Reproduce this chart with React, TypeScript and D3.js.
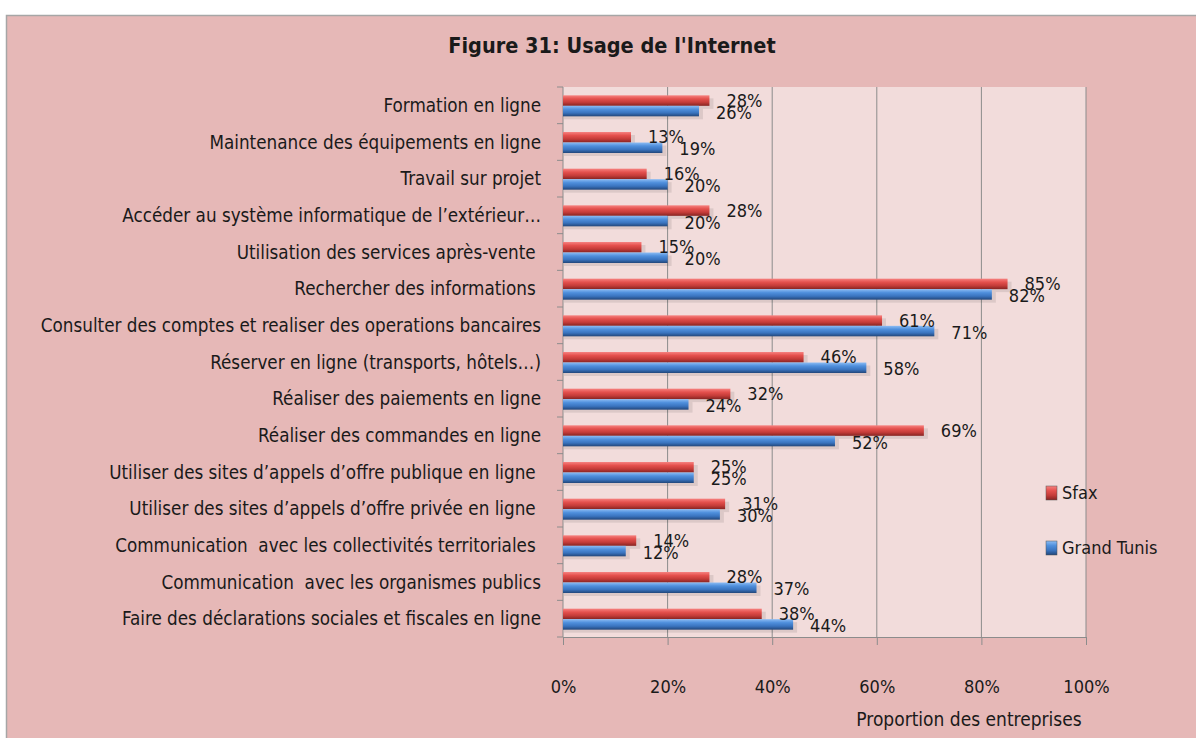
import React, { useEffect, useRef } from 'react'
import * as d3 from 'd3'

const categories = [
  "Formation en ligne",
  "Maintenance des équipements en ligne",
  "Travail sur projet",
  "Accéder au système informatique de l’extérieur…",
  "Utilisation des services après-vente ",
  "Rechercher des informations ",
  "Consulter des comptes et realiser des operations bancaires",
  "Réserver en ligne (transports, hôtels…)",
  "Réaliser des paiements en ligne",
  "Réaliser des commandes en ligne",
  "Utiliser des sites d’appels d’offre publique en ligne ",
  "Utiliser des sites d’appels d’offre privée en ligne ",
  "Communication  avec les collectivités territoriales ",
  "Communication  avec les organismes publics",
  "Faire des déclarations sociales et fiscales en ligne",
]

const sfax = [28, 13, 16, 28, 15, 85, 61, 46, 32, 69, 25, 31, 14, 28, 38]
const grandTunis = [26, 19, 20, 20, 20, 82, 71, 58, 24, 52, 25, 30, 12, 37, 44]

const seriesNames = ["Sfax", "Grand Tunis"]
const xTicks = [0, 20, 40, 60, 80, 100]

const FONT = "'DejaVu Sans Condensed', 'Open Sans', sans-serif"

export default function App() {
  const ref = useRef<SVGSVGElement>(null)

  useEffect(() => {
    const svg = d3.select(ref.current)
    svg.selectAll("*").remove()

    const plot = { left: 563, right: 1086, top: 87, bottom: 637 }

    const defs = svg.append("defs")
    const grad = (id: string, stops: string[]) => {
      const g = defs.append("linearGradient").attr("id", id)
        .attr("x1", 0).attr("x2", 0).attr("y1", 0).attr("y2", 1)
      stops.forEach((c, i) => {
        g.append("stop").attr("offset", `${(i / (stops.length - 1)) * 100}%`).attr("stop-color", c)
      })
    }
    grad("redGrad", ["#f68280", "#e4504d", "#c43c39", "#862422"])
    grad("blueGrad", ["#8cbcf4", "#4f8fdc", "#3a74bf", "#22467a"])

    // background
    svg.append("rect").attr("x", 0).attr("y", 0).attr("width", 1196).attr("height", 738).attr("fill", "#ffffff")
    svg.append("rect")
      .attr("x", 6.5).attr("y", 15.5).attr("width", 1200).attr("height", 740)
      .attr("fill", "#e6b8b7").attr("stroke", "#a6a6a6").attr("stroke-width", 1.5)

    svg.append("rect")
      .attr("x", plot.left).attr("y", plot.top)
      .attr("width", plot.right - plot.left).attr("height", plot.bottom - plot.top)
      .attr("fill", "#f2dcdb")

    const x = d3.scaleLinear().domain([0, 100]).range([plot.left, plot.right])
    const y = d3.scaleBand().domain(categories).range([plot.top, plot.bottom])
    const inner = d3.scaleBand().domain(seriesNames).range([-10, 11])

    // gridlines
    svg.append("g").selectAll("line")
      .data(xTicks.slice(1))
      .enter()
      .append("line")
      .attr("x1", d => x(d)).attr("x2", d => x(d))
      .attr("y1", plot.top).attr("y2", plot.bottom)
      .attr("stroke", "#8c8c8c").attr("stroke-width", 1)

    // x axis
    const xAxis = svg.append("g")
      .attr("transform", `translate(0,${plot.bottom})`)
      .call(d3.axisBottom(x).tickValues(xTicks).tickSize(8).tickFormat(d => d + "%"))
    xAxis.select(".domain").attr("stroke", "#8c8c8c")
    xAxis.selectAll(".tick line").attr("stroke", "#8c8c8c")
    xAxis.selectAll(".tick text")
      .attr("y", 43)
      .attr("font-family", FONT).attr("font-size", 18).attr("fill", "#1a1a1a")

    // y axis
    const tickYs = d3.range(categories.length + 1).map(i => plot.top + i * y.step())
    svg.append("line")
      .attr("x1", plot.left).attr("x2", plot.left)
      .attr("y1", plot.top).attr("y2", plot.bottom)
      .attr("stroke", "#8c8c8c")
    svg.append("g").selectAll("line")
      .data(tickYs)
      .enter()
      .append("line")
      .attr("x1", plot.left - 6).attr("x2", plot.left)
      .attr("y1", d => d).attr("y2", d => d)
      .attr("stroke", "#8c8c8c")

    svg.append("g").selectAll("text")
      .data(categories)
      .enter()
      .append("text")
      .attr("x", 541)
      .attr("y", d => (y(d) as number) + y.bandwidth() / 2)
      .attr("dy", "0.35em")
      .attr("text-anchor", "end")
      .attr("font-family", FONT).attr("font-size", 18.7).attr("fill", "#1a1a1a")
      .style("white-space", "pre")
      .text(d => d)

    const series = [
      { name: seriesNames[0], values: sfax, fill: "url(#redGrad)", labelDy: -5 },
      { name: seriesNames[1], values: grandTunis, fill: "url(#blueGrad)", labelDy: 7 },
    ]

    series.forEach(s => {
      const g = svg.append("g")
      const rows = s.values.map((v, i) => ({ v, cat: categories[i] }))
      // soft shadow under each bar
      g.selectAll(".shadow")
        .data(rows)
        .enter()
        .append("rect")
        .attr("x", plot.left + 1)
        .attr("y", d => (y(d.cat) as number) + y.bandwidth() / 2 + (inner(s.name) as number) + 3)
        .attr("width", d => x(d.v) - plot.left + 3)
        .attr("height", inner.bandwidth())
        .attr("fill", "#000").attr("opacity", 0.09)
      g.selectAll(".bar")
        .data(rows)
        .enter()
        .append("rect")
        .attr("x", plot.left)
        .attr("y", d => (y(d.cat) as number) + y.bandwidth() / 2 + (inner(s.name) as number))
        .attr("width", d => x(d.v) - plot.left)
        .attr("height", inner.bandwidth())
        .attr("fill", s.fill)
    })

    // data labels drawn last so they sit over bars
    series.forEach(s => {
      svg.append("g").selectAll("text")
        .data(s.values.map((v, i) => ({ v, cat: categories[i] })))
        .enter()
        .append("text")
        .attr("x", d => x(d.v) + 17)
        .attr("y", d => (y(d.cat) as number) + y.bandwidth() / 2 + s.labelDy)
        .attr("dy", "0.35em")
        .attr("font-family", FONT).attr("font-size", 18).attr("fill", "#1a1a1a")
        .text(d => d.v + "%")
    })

    // title
    svg.append("text")
      .attr("x", 612).attr("y", 53)
      .attr("text-anchor", "middle")
      .attr("font-family", FONT).attr("font-size", 21.5).attr("font-weight", "bold")
      .attr("fill", "#1a1a1a")
      .text("Figure 31: Usage de l'Internet")

    // axis title
    svg.append("text")
      .attr("x", 969).attr("y", 726)
      .attr("text-anchor", "middle")
      .attr("font-family", FONT).attr("font-size", 19).attr("fill", "#1a1a1a")
      .text("Proportion des entreprises")

    // legend
    const legend = svg.append("g").attr("transform", "translate(1046,486)")
    const items = legend.selectAll("g")
      .data(series)
      .enter()
      .append("g")
      .attr("transform", (d, i) => `translate(0,${i * 55})`)
    items.append("rect")
      .attr("width", 11).attr("height", 14)
      .attr("fill", d => d.fill)
      .attr("stroke", "#555").attr("stroke-width", 0.5)
    items.append("text")
      .attr("x", 16).attr("y", 7).attr("dy", "0.35em")
      .attr("font-family", FONT).attr("font-size", 18).attr("fill", "#1a1a1a")
      .text(d => d.name)
  }, [])

  return (
    <svg ref={ref} width={1196} height={738} style={{ position: "absolute", left: 0, top: 0 }} />
  )
}
